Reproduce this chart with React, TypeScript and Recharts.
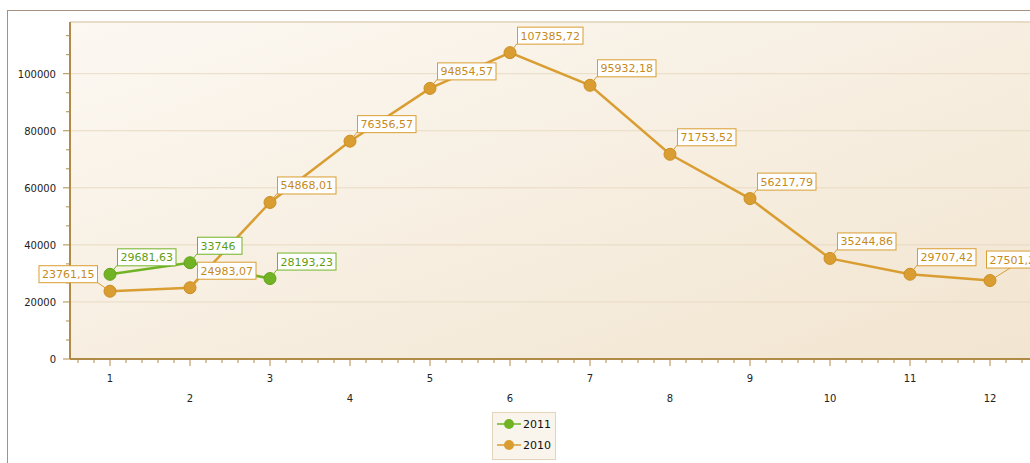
import {
  LineChart,
  Line,
  XAxis,
  YAxis,
  CartesianGrid,
  ReferenceLine,
  LabelList,
} from "recharts";

// Month numbers on the x axis
const MONTHS = [1, 2, 3, 4, 5, 6, 7, 8, 9, 10, 11, 12];

const SALES_2010 = [
  23761.15, 24983.07, 54868.01, 76356.57, 94854.57, 107385.72, 95932.18, 71753.52,
  56217.79, 35244.86, 29707.42, 27501.24,
];
const SALES_2011 = [29681.63, 33746, 28193.23];

const Y_MAJOR = [0, 20000, 40000, 60000, 80000, 100000];
const Y_MAX = 118124;

const COLOR_2010 = "#d99d31";
const COLOR_2011 = "#72b325";
const TEXT_2010 = "#c68a1d";
const TEXT_2011 = "#5f9e14";
const AXIS = "#b08b48";
const FONT = "'DejaVu Sans', Tahoma, sans-serif";

const data = MONTHS.map((m, i) => ({
  month: m,
  y2010: SALES_2010[i],
  y2011: i < SALES_2011.length ? SALES_2011[i] : null,
}));

// minor ticks: 4 between each month, 2 between each 20000 step
const xTicks: number[] = [];
for (let k = 0; k <= 59; k++) xTicks.push(Math.round((0.6 + k * 0.2) * 10) / 10);
const yTicks: number[] = [];
for (let k = 0; k <= 17; k++) yTicks.push((k * 20000) / 3);

const fmt = (v: number) => String(v).replace(".", ",");

function XTick({ x, y, payload }: any) {
  const v = payload.value;
  const major = Math.abs(v - Math.round(v)) < 0.01;
  return (
    <g>
      <line x1={x} x2={x} y1={y} y2={y + (major ? 7 : 4)} stroke={AXIS} />
      {major && (
        <text
          x={x}
          y={Math.round(v) % 2 === 1 ? y + 23 : y + 43}
          textAnchor="middle"
          fontSize={10}
          fontFamily={FONT}
          fill="#222"
        >
          {Math.round(v)}
        </text>
      )}
    </g>
  );
}

function YTick({ x, y, payload }: any) {
  const v = payload.value;
  const major = Math.abs(v / 20000 - Math.round(v / 20000)) < 0.001;
  return (
    <g>
      <line x1={x - (major ? 7 : 4)} x2={x} y1={y} y2={y} stroke={AXIS} />
      {major && (
        <text x={x - 14} y={y + 4} textAnchor="end" fontSize={10} fontFamily={FONT} fill="#222">
          {Math.round(v)}
        </text>
      )}
    </g>
  );
}

// side: "left" puts the box left of the point, "end" pulls it back over the point
const makeLabel = (border: string, text: string, side: Record<number, string>) => (props: any) => {
  const { x, y, value, index } = props;
  if (value == null) return null;
  const s = fmt(value);
  const w = s.replace(",", "").length * 7 + 3.5 + 6;
  const h = 17;
  const mode = side[index];
  let bx = x + 7;
  if (mode === "left") bx = x - 13 - w;
  if (mode === "end") bx = x - 4;
  const by = y - (mode === "end" ? 13 : 9) - h;
  const lx = mode === "left" ? bx + w : mode === "end" ? x + 21 : bx;
  return (
    <g>
      <line x1={x} y1={y} x2={lx} y2={by + h} stroke={border} strokeWidth={1} />
      <rect x={bx + 0.5} y={by + 0.5} width={w} height={h} fill="#fff" stroke={border} />
      <text x={bx + 3.5} y={by + 13} fontSize={11} fontFamily={FONT} fill={text}>
        {s}
      </text>
    </g>
  );
};

function ChartLegend() {
  const items = [
    { name: "2011", color: COLOR_2011 },
    { name: "2010", color: COLOR_2010 },
  ];
  return (
    <div
      style={{
        position: "absolute",
        left: 492,
        top: 412,
        width: 62,
        height: 46,
        background: "#faf5ec",
        border: "1px solid #e2d5bb",
        fontFamily: FONT,
        fontSize: 11,
        color: "#111",
      }}
    >
      {items.map((it, i) => (
        <div key={it.name} style={{ position: "absolute", left: 4, top: 4 + i * 21, display: "flex", alignItems: "center" }}>
          <svg width={24} height={14}>
            <line x1={0} x2={24} y1={7} y2={7} stroke={it.color} strokeWidth={1.5} />
            <circle cx={12} cy={7} r={5} fill={it.color} />
          </svg>
          <span style={{ marginLeft: 2 }}>{it.name}</span>
        </div>
      ))}
    </div>
  );
}

export default function App() {
  return (
    <div style={{ position: "fixed", left: 0, top: 0, width: 1030, height: 463, background: "#fff", overflow: "hidden" }}>
      <div
        style={{
          position: "absolute",
          left: 7,
          top: 10,
          width: 1100,
          height: 500,
          borderLeft: "1px solid #a69080",
          borderTop: "1px solid #a69080",
        }}
      />
      <div style={{ position: "absolute", left: 0, top: 0 }}>
        <LineChart width={1030} height={463} data={data} margin={{ top: 22, right: 0, left: 0, bottom: 0 }}>
          <defs>
            <linearGradient id="bg" x1="0" y1="0" x2="1" y2="1">
              <stop offset="0%" stopColor="#fcf8f2" />
              <stop offset="100%" stopColor="#f2e5d0" />
            </linearGradient>
          </defs>
          <CartesianGrid fill="url(#bg)" fillOpacity={1} vertical={false} horizontal={false} stroke="none" />
          {Y_MAJOR.slice(1).map((v) => (
            <ReferenceLine key={v} y={v} stroke="#e8dbc3" strokeWidth={1} />
          ))}
          <ReferenceLine y={Y_MAX} stroke="#e8dcc6" strokeWidth={2} />
          <XAxis
            dataKey="month"
            type="number"
            domain={[0.5, 12.5]}
            ticks={xTicks}
            interval={0}
            height={104}
            tickSize={0}
            tickMargin={0}
            tickLine={false}
            tick={<XTick />}
            axisLine={{ stroke: AXIS, strokeWidth: 2 }}
          />
          <YAxis
            domain={[0, Y_MAX]}
            ticks={yTicks}
            interval={0}
            width={70}
            tickSize={0}
            tickMargin={0}
            tickLine={false}
            tick={<YTick />}
            axisLine={{ stroke: AXIS, strokeWidth: 2 }}
          />
          <Line
            dataKey="y2010"
            name="2010"
            stroke={COLOR_2010}
            strokeWidth={2.5}
            dot={{ r: 6, fill: COLOR_2010, stroke: "#c98e25", strokeWidth: 1 }}
            activeDot={false}
            isAnimationActive={false}
          />
          <Line
            dataKey="y2011"
            name="2011"
            stroke={COLOR_2011}
            strokeWidth={2.5}
            dot={{ r: 6, fill: COLOR_2011, stroke: "#63a21c", strokeWidth: 1 }}
            activeDot={false}
            connectNulls={false}
            isAnimationActive={false}
          />
          {/* label-only layers so the boxes sit over both lines */}
          <Line dataKey="y2010" stroke="none" dot={false} activeDot={false} legendType="none" isAnimationActive={false}>
            <LabelList dataKey="y2010" content={makeLabel(COLOR_2010, TEXT_2010, { 0: "left", 11: "end" })} />
          </Line>
          <Line dataKey="y2011" stroke="none" dot={false} activeDot={false} legendType="none" isAnimationActive={false}>
            <LabelList dataKey="y2011" content={makeLabel(COLOR_2011, TEXT_2011, {})} />
          </Line>
        </LineChart>
      </div>
      <ChartLegend />
    </div>
  );
}
